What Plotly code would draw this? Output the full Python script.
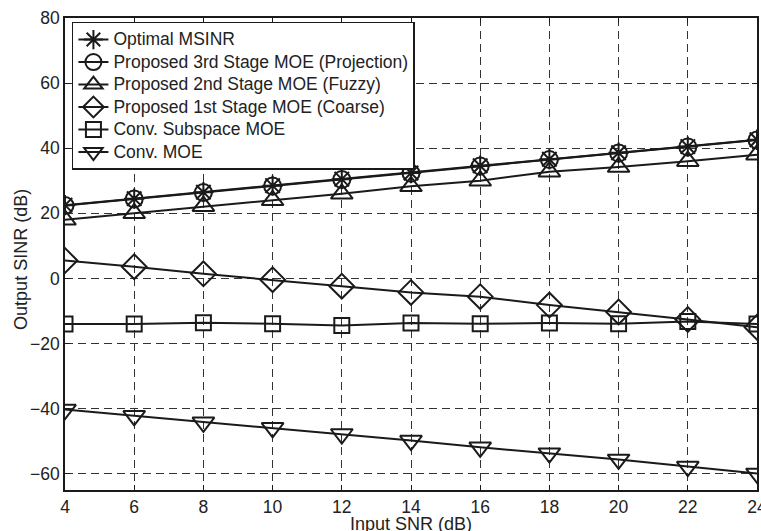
import plotly.graph_objects as go

x = [4, 6, 8, 10, 12, 14, 16, 18, 20, 22, 24]
optimal = [22.5, 24.5, 26.5, 28.5, 30.5, 32.4, 34.6, 36.6, 38.6, 40.5, 42.6]
stage3 = [22.4, 24.4, 26.4, 28.4, 30.4, 32.3, 34.5, 36.5, 38.5, 40.4, 42.5]
stage2 = [18.0, 20.0, 22.2, 24.0, 26.0, 28.3, 30.0, 32.8, 34.2, 36.0, 38.0]
stage1 = [5.5, 3.6, 1.4, -0.4, -2.4, -4.3, -5.6, -8.2, -10.3, -12.6, -15.0]
subspace = [-14.0, -14.0, -13.6, -13.9, -14.5, -13.7, -13.9, -13.7, -13.9, -13.2, -14.0]
conv = [-40.3, -42.2, -44.2, -45.9, -47.8, -49.8, -51.9, -53.7, -55.6, -57.8, -59.9]

names = [
    "Optimal MSINR",
    "Proposed 3rd Stage MOE (Projection)",
    "Proposed 2nd Stage MOE (Fuzzy)",
    "Proposed 1st Stage MOE (Coarse)",
    "Conv. Subspace MOE",
    "Conv. MOE",
]
series = [optimal, stage3, stage2, stage1, subspace, conv]
symbols = ["asterisk-open", "circle-open", "triangle-up-open", "diamond-open",
           "square-open", "triangle-down-open"]
sizes = [17, 17, 19, 19, 15, 19]
y_ticks = [-60, -40, -20, 0, 20, 40, 60, 80]
x_title = "Input SNR (dB)"
y_title = "Output SINR (dB)"

C = "#1a1a1a"
FONT = "Liberation Sans"
fig = go.Figure()
for n, s, sym, sz in zip(names, series, symbols, sizes):
    fig.add_trace(go.Scatter(
        x=x, y=s, name='<span style="font-size:17.5px">' + n + '</span>',
        mode="lines+markers",
        line=dict(color=C, width=2),
        marker=dict(symbol=sym, size=sz, color=C, line=dict(color=C, width=2)),
    ))

axis_common = dict(
    showline=True, linecolor=C, linewidth=1.5, mirror="ticks",
    ticks="inside", ticklen=5, tickcolor=C, automargin=False,
    showgrid=True, gridcolor="#333333", griddash="8px,5px", gridwidth=1,
    zeroline=False,
    tickfont=dict(family=FONT, size=17.5, color="#222"),
)
fig.update_xaxes(range=[4, 24], tickvals=x, ticklabeloverflow="allow", **axis_common)
fig.update_yaxes(range=[-65, 80], tickvals=y_ticks, **axis_common)

fig.add_annotation(text=x_title, xref="paper", yref="paper", x=0.5, y=-0.073,
                   xanchor="center", yanchor="middle", showarrow=False,
                   font=dict(family=FONT, size=18, color="#222"))
fig.add_annotation(text=y_title, xref="paper", yref="paper", x=-0.064, y=0.489,
                   xanchor="center", yanchor="middle", showarrow=False, textangle=-90,
                   font=dict(family=FONT, size=18, color="#222"))

fig.update_layout(
    width=761, height=531,
    margin=dict(l=65, r=4, t=18, b=41, autoexpand=False),
    paper_bgcolor="white", plot_bgcolor="white",
    showlegend=True,
    legend=dict(
        x=0.01, y=0.992, xanchor="left", yanchor="top",
        bgcolor="white", bordercolor=C, borderwidth=1.5,
        font=dict(family=FONT, size=15, color="#222"),
        itemsizing="trace", tracegroupgap=0,
    ),
)

fig.write_html("out.html", config={"displayModeBar": False},
               post_script="document.body.style.margin='0px';document.body.style.overflow='hidden';")
